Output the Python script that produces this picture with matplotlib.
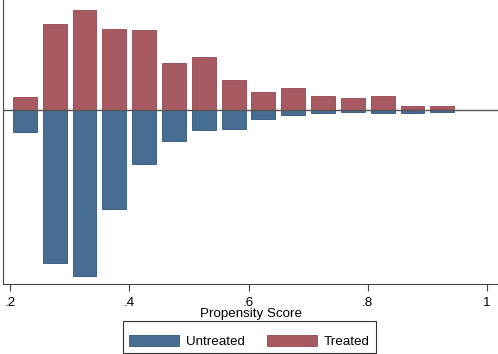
import matplotlib
matplotlib.use("Agg")
import matplotlib.pyplot as plt
from matplotlib.patches import Patch, Rectangle

plt.rcParams['font.family'] = ['Liberation Sans', 'DejaVu Sans']

bin_centers = [0.225, 0.275, 0.325, 0.375, 0.425, 0.475, 0.525, 0.575,
               0.625, 0.675, 0.725, 0.775, 0.825, 0.875, 0.925]
treated = [13, 85.7, 100, 81, 80, 47.3, 52.7, 30, 17.7, 22, 14.3, 11.7, 14.3, 4, 4]
untreated = [22, 153.3, 166, 99, 53.7, 31, 19.7, 19, 9, 4.7, 3.3, 1.7, 3.3, 3, 1.7]
xticks = [0.2, 0.4, 0.6, 0.8, 1.0]
xtick_labels = [".2", ".4", ".6", ".8", "1"]

blue = "#476d92"
red = "#a85a62"
fs = 9.6
W, H = 498, 354

fig = plt.figure(figsize=(W/100, H/100), dpi=100)
ax = fig.add_axes([3/W, 1 - 284/H, 495/W, 284/H])

ax.bar(bin_centers, treated, width=0.04, color=red, edgecolor="#94464e", linewidth=0.6)
ax.bar(bin_centers, [-u for u in untreated], width=0.04, color=blue, edgecolor="#2f5577", linewidth=0.6)
ax.axhline(0, color="#555555", linewidth=1.0, zorder=5)

ax.set_xlim(0.2 - 7/597.5, 1 + 11/597.5)
ax.set_ylim(-174, 110)
ax.set_xticks(xticks)
ax.set_xticklabels(xtick_labels, fontsize=fs)
ax.set_yticks([])
ax.tick_params(axis='x', direction='out', length=5, width=0.8, color="#444444", pad=4)
for s in ["top", "right"]:
    ax.spines[s].set_visible(False)
for s in ["left", "bottom"]:
    ax.spines[s].set_color("#444444")
    ax.spines[s].set_linewidth(0.8)
ax.set_xlabel("Propensity Score", fontsize=fs, labelpad=0)

handles = [Patch(facecolor=blue, edgecolor="#2f5577", linewidth=0.6, label="Untreated"),
           Patch(facecolor=red, edgecolor="#94464e", linewidth=0.6, label="Treated")]
leg = fig.legend(handles=handles, loc="center", bbox_to_anchor=(249.5/W, 1 - 341.5/H),
                 ncol=2, fontsize=fs, frameon=False,
                 handlelength=3.75, handleheight=0.85, columnspacing=1.7, handletextpad=0.5,
                 borderpad=0.0, borderaxespad=0)
fig.patches.append(Rectangle((123/W, 1 - 353/H), 253/W, 32/H, transform=fig.transFigure,
                             fill=False, edgecolor="#333333", linewidth=0.8))

fig.savefig("out.png", dpi=100)
